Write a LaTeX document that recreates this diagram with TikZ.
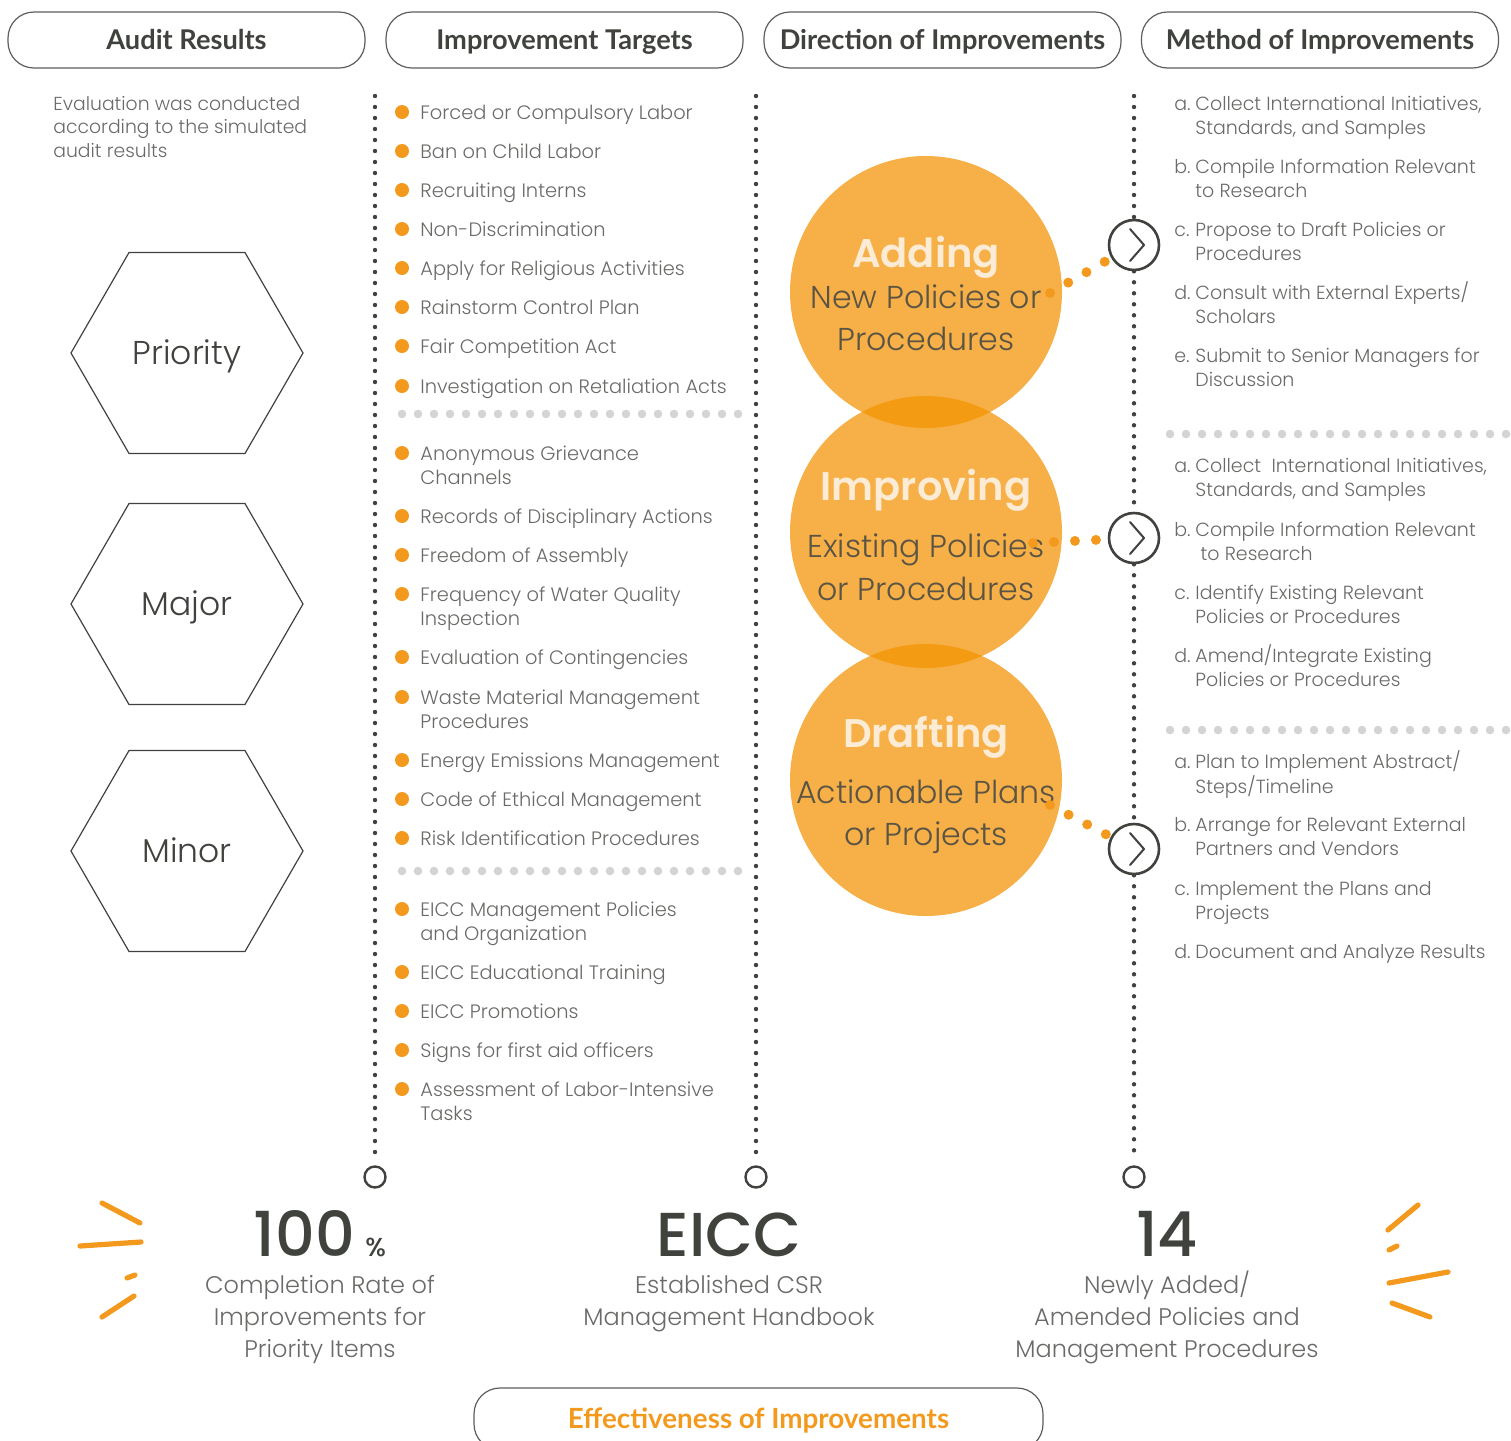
\documentclass[tikz,border=0pt]{standalone}
\usepackage{fontspec}
\IfFontExistsTF{Poppins Light}
  {\setmainfont{Poppins Light}}
  {\setmainfont{Poppins}}
\IfFontExistsTF{Poppins SemiBold}
  {\newfontfamily\strongfont{Poppins SemiBold}}
  {\newfontfamily\strongfont{Poppins Bold}}
\IfFontExistsTF{Poppins Medium}
  {\newfontfamily\figurefont{Poppins Medium}}
  {\newfontfamily\figurefont{Poppins}}
\newfontfamily\headfont{Lato}
\usetikzlibrary{shapes.geometric,positioning}

\definecolor{ink}{HTML}{3F423D}
\definecolor{softink}{HTML}{6A6B68}
\definecolor{pale}{HTML}{D3D4D6}
\definecolor{accent}{HTML}{F39A1E}
\definecolor{ballorange}{HTML}{F39200}
\definecolor{cream}{HTML}{FCEBD5}
\definecolor{balltext}{HTML}{5B5444}

\newcommand\twolines[2]{\begin{tabular}[t]{@{}l@{}}#1\\#2\end{tabular}}
\newcommand\stepitem[3]{\begin{tabular}[t]{@{}l@{}}\makebox[10.5pt][l]{#1}#2\\\hspace{10.5pt}#3\end{tabular}}
\newcommand\notestack[1]{\begin{tabular}[t]{@{}c@{}}#1\end{tabular}}

\begin{document}
\begin{tikzpicture}[
    x=0.5pt, y=-0.5pt,
    header/.style={draw=ink!85, line width=0.6pt, rounded corners=13pt,
        minimum width=178.5pt, minimum height=28pt, inner sep=0pt,
        text height=9.6pt, text depth=0pt,
        text=ink, font=\headfont\bfseries\fontsize{13.6}{15}\selectfont},
    stem/.style={draw=ink, line width=2.2pt, line cap=round,
        dash pattern=on 0pt off 5.5pt},
    end ring/.style={circle, draw=ink, line width=1.2pt, fill=white,
        minimum size=10.5pt, inner sep=0pt},
    turn ring/.style={circle, draw=ink, line width=1.3pt, fill=white,
        minimum size=25pt, inner sep=0pt,
        path picture={\draw[ink, line width=1pt, line cap=round, line join=round]
            ([xshift=-2pt,yshift=8pt]path picture bounding box.center)
            -- ++(7pt,-8pt) -- ++(-7pt,-8pt);}},
    level hex/.style={regular polygon, regular polygon sides=6, draw=ink,
        line width=0.6pt, minimum size=116pt, inner sep=0pt, text=ink,
        text height=11.4pt, text depth=0pt,
        font=\fontsize{16.5}{19}\selectfont},
    target dot/.style={circle, fill=accent, minimum size=7pt, inner sep=0pt},
    target/.style={anchor=base west, inner sep=0pt, text=softink,
        font=\fontsize{9.7}{12}\selectfont},
    pale dots/.style={draw=pale, line width=4.3pt, line cap=round,
        dash pattern=on 0pt off 8pt},
    ball/.style={circle, fill=ballorange, fill opacity=0.72,
        minimum size=136pt, inner sep=0pt},
    ball head/.style={anchor=base, inner sep=0pt, text=cream,
        font=\strongfont\fontsize{20}{23}\selectfont},
    ball line/.style={anchor=base, inner sep=0pt, text=balltext,
        font=\fontsize{15.8}{18}\selectfont},
    link/.style={draw=accent, line width=5pt, line cap=round,
        dash pattern=on 0pt off 10.5pt},
    spark/.style={draw=accent, line width=2.6pt, line cap=round},
    big figure/.style={anchor=base, inner sep=0pt, text=ink,
        font=\figurefont\fontsize{31}{34}\selectfont},
    figure note/.style={anchor=base, inner sep=0pt, text=softink,
        font=\fontsize{12}{16}\selectfont}
  ]
  \useasboundingbox (0,0) rectangle (1511,1441);

  % headers
  \node[header] (audit) at (186.5,40) {Audit Results};
  \node[header] (targets) at (564.5,40) {Improvement Targets};
  \node[header] (direction) at (942.5,40) {Direction of Improvements};
  \node[header] (method) at (1320,40) {Method of Improvements};

  % audit results
  \node[target, font=\fontsize{9.4}{11.8}\selectfont] (intro) at (53,110)
    {\begin{tabular}[t]{@{}l@{}}Evaluation was conducted\\according to the simulated\\audit results\end{tabular}};
  \node[level hex] (priority) at (187,353) {Priority};
  \node[level hex] (major) at (187,604) {Major};
  \node[level hex] (minor) at (187,851) {Minor};

  % stems
  \coordinate (s1 top) at (375,96);
  \coordinate (s2 top) at (756,96);
  \coordinate (s4 top) at (1134,96);
  \node[end ring] (s1 end) at (375,1177) {};
  \node[end ring] (s2 end) at (756,1177) {};
  \node[end ring] (s4 end) at (1134,1177) {};
  \node[turn ring] (turn1) at (1134,245) {};
  \node[turn ring] (turn2) at (1134,538) {};
  \node[turn ring] (turn3) at (1134,849) {};
  \draw[stem, shorten >=3pt] (s1 top) -- (s1 end);
  \draw[stem, shorten >=3pt] (s2 top) -- (s2 end);
  \draw[stem, shorten >=3pt] (s4 top) -- (turn1) -- (turn2) -- (turn3) -- (s4 end);

  % improvement targets
  \foreach \y/\txt [count=\i] in {
      119/{Forced or Compulsory Labor},
      158/{Ban on Child Labor},
      197/{Recruiting Interns},
      236/{Non-Discrimination},
      275/{Apply for Religious Activities},
      314/{Rainstorm Control Plan},
      353/{Fair Competition Act},
      393/{Investigation on Retaliation Acts},
      460/{\twolines{Anonymous Grievance}{Channels}},
      523/{Records of Disciplinary Actions},
      562/{Freedom of Assembly},
      601/{\twolines{Frequency of Water Quality}{Inspection}},
      664/{Evaluation of Contingencies},
      704/{\twolines{Waste Material Management}{Procedures}},
      767/{Energy Emissions Management},
      806/{Code of Ethical Management},
      845/{Risk Identification Procedures},
      916/{\twolines{EICC Management Policies}{and Organization}},
      979/{EICC Educational Training},
      1018/{EICC Promotions},
      1057/{Signs for first aid officers},
      1096/{\twolines{Assessment of Labor-Intensive}{Tasks}}} {
    \node[target dot] (dot\i) at (402,\y-7) {};
    \node[target] (item\i) at (420,\y) {\txt};
  }
  \draw[pale dots] (402,414) -- (740,414);
  \draw[pale dots] (402,871) -- (740,871);

  % direction of improvements
  \node[ball] (adding) at (926,292) {};
  \node[ball] (improving) at (926,532) {};
  \node[ball] (drafting) at (926,780) {};
  \node[ball head] (adding head) at (926,267) {Adding};
  \node[ball line] (adding l1) at (926,308) {New Policies or};
  \node[ball line] (adding l2) at (926,350) {Procedures};
  \node[ball head] (improving head) at (926,500) {Improving};
  \node[ball line] (improving l1) at (926,557) {Existing Policies};
  \node[ball line] (improving l2) at (926,600) {or Procedures};
  \node[ball head] (drafting head) at (926,747) {Drafting};
  \node[ball line] (drafting l1) at (926,803) {Actionable Plans};
  \node[ball line] (drafting l2) at (926,845) {or Projects};

  \coordinate (adding out) at (1050,293);
  \coordinate (improving out) at (1033,543);
  \coordinate (drafting out) at (1050,805);
  \draw[link] (adding out) -- (turn1);
  \draw[link] (improving out) -- (turn2);
  \draw[link] (drafting out) -- (turn3);

  % method of improvements
  \foreach \y/\tag/\first/\second [count=\i] in {
      110/a./{Collect International Initiatives,}/{Standards, and Samples},
      173/b./{Compile Information Relevant}/{to Research},
      236/c./{Propose to Draft Policies or}/{Procedures},
      299/d./{Consult with External Experts/}/{Scholars},
      362/e./{Submit to Senior Managers for}/{Discussion},
      472/a./{Collect\ \ International Initiatives,}/{Standards, and Samples},
      536/b./{Compile Information Relevant}/{\ to Research},
      599/c./{Identify Existing Relevant}/{Policies or Procedures},
      662/d./{Amend/Integrate Existing}/{Policies or Procedures},
      768/a./{Plan to Implement Abstract/}/{Steps/Timeline},
      831/b./{Arrange for Relevant External}/{Partners and Vendors},
      895/c./{Implement the Plans and}/{Projects},
      958/d./{Document and Analyze Results}/{}} {
    \node[target, font=\fontsize{9.5}{12}\selectfont] (way\i) at (1174,\y)
      {\stepitem{\tag}{\first}{\second}};
  }
  \draw[pale dots] (1170,434) -- (1510,434);
  \draw[pale dots] (1170,730) -- (1510,730);

  % effectiveness
  \node[big figure] (rate) at (320,1256) {100\,{\fontsize{13}{14}\selectfont\%}};
  \node[figure note] (rate note) at (320,1293)
    {\notestack{Completion Rate of\\Improvements for\\Priority Items}};
  \node[big figure] (eicc) at (729,1256) {EICC};
  \node[figure note] (eicc note) at (729,1293)
    {\notestack{Established CSR\\Management Handbook}};
  \node[big figure] (count) at (1167,1256) {14};
  \node[figure note] (count note) at (1167,1293)
    {\notestack{Newly Added/\\Amended Policies and\\Management Procedures}};

  \draw[spark] (102,1203) -- (140,1223);
  \draw[spark] (80,1246) -- (141,1242);
  \draw[spark] (127,1278) -- (135,1275);
  \draw[spark] (102,1317) -- (134,1296);
  \draw[spark] (1388,1230) -- (1418,1205);
  \draw[spark] (1389,1250) -- (1397,1246);
  \draw[spark] (1389,1283) -- (1448,1272);
  \draw[spark] (1392,1303) -- (1430,1317);

  \node[header, minimum width=284.5pt, minimum height=31pt, text=accent,
        font=\headfont\bfseries\fontsize{13.9}{15}\selectfont]
    (effect) at (758.5,1419) {Effectiveness of Improvements};
\end{tikzpicture}
\end{document}
